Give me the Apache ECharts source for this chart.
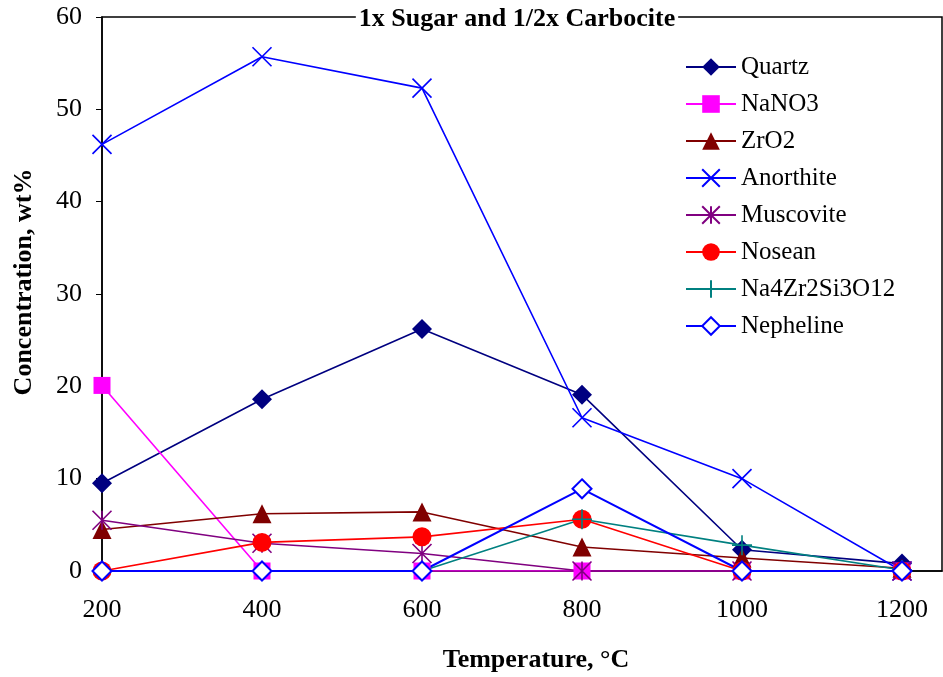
<!DOCTYPE html>
<html>
<head>
<meta charset="utf-8">
<script src="https://cdn.jsdelivr.net/npm/echarts@6/dist/echarts.min.js"></script>
<style>html,body{margin:0;padding:0;background:#fff}#c{width:943px;height:677px}</style>
</head>
<body>
<div id="c"></div>
<script>
var temps = [200, 400, 600, 800, 1000, 1200];
var xTicks = [200, 400, 600, 800, 1000, 1200];
var yTicks = [0, 10, 20, 30, 40, 50, 60];
var seriesNames = ['Quartz', 'NaNO3', 'ZrO2', 'Anorthite', 'Muscovite', 'Nosean', 'Na4Zr2Si3O12', 'Nepheline'];
var quartz = [9.5, 18.6, 26.2, 19.1, 2.3, 0.8];
var nano3 = [20.1, 0, 0, 0, 0, 0];
var zro2 = [4.5, 6.2, 6.4, 2.6, 1.4, 0.3];
var anorthite = [46.2, 55.7, 52.3, 16.6, 10.0, 0];
var muscovite = [5.5, 3.0, 1.9, 0, 0, 0];
var nosean = [0, 3.1, 3.7, 5.6, 0, 0];
var na4zr2si3o12 = [0, 0, 0, 5.6, 2.8, 0.1];
var nepheline = [0, 0, 0, 8.9, 0, 0];

var FONT = '"Liberation Serif", "Times New Roman", serif';
function pairs(arr) { return temps.map(function (t, i) { return [t, arr[i]]; }); }

var styles = [
  { data: quartz, color: '#000080', symbol: 'diamond', size: 20 },
  { data: nano3, color: '#FF00FF', symbol: 'rect', size: 17 },
  { data: zro2, color: '#800000', symbol: 'triangle', size: 19 },
  { data: anorthite, color: '#0000FF', symbol: 'path://M0,0L10,10M10,0L0,10', size: 19, stroke: true },
  { data: muscovite, color: '#800080', symbol: 'path://M0,0L10,10M10,0L0,10M5,0L5,10', size: 19, stroke: true },
  { data: nosean, color: '#FF0000', symbol: 'circle', size: 19 },
  { data: na4zr2si3o12, color: '#008080', symbol: 'path://M5,0L5,10M0,5L10,5', size: 20, stroke: true },
  { data: nepheline, color: '#0000FF', symbol: 'emptyDiamond', size: 19, stroke: true, lw: 2 }
];

var series = styles.map(function (s, i) {
  return {
    name: seriesNames[i],
    type: 'line',
    data: pairs(s.data),
    symbol: s.symbol,
    symbolSize: s.size,
    showAllSymbol: true,
    lineStyle: { color: s.color, width: s.lw || 1.6 },
    itemStyle: s.stroke ? { color: s.color, borderColor: s.color, borderWidth: s.lw || 1.6 } : { color: s.color, borderWidth: 0 },
    emphasis: { disabled: true }
  };
});

var chart = echarts.init(document.getElementById('c'), null, { renderer: 'canvas' });
chart.setOption({
  animation: false,
  backgroundColor: '#fff',
  grid: { left: 102, right: 1, top: 17, bottom: 106, show: true, borderColor: '#000', borderWidth: 1.5, containLabel: false },
  xAxis: {
    type: 'value', min: xTicks[0], max: 1250, interval: 200,
    axisLine: { show: true, lineStyle: { color: '#000', width: 1.5 } },
    axisTick: { show: false },
    splitLine: { show: false },
    axisLabel: { showMaxLabel: false, color: '#000', fontFamily: FONT, fontSize: 26, margin: 26,
      formatter: function (v) { return xTicks.indexOf(v) >= 0 ? String(v) : ''; } }
  },
  yAxis: {
    type: 'value', min: yTicks[0], max: yTicks[yTicks.length - 1], interval: 10,
    axisLine: { show: true, lineStyle: { color: '#000', width: 1.5 } },
    axisTick: { show: true, inside: false, length: 6, lineStyle: { color: '#000', width: 1 } },
    splitLine: { show: false },
    axisLabel: { color: '#000', fontFamily: FONT, fontSize: 26, margin: 20 }
  },
  legend: {
    orient: 'vertical', left: 685, top: 54, padding: 0,
    itemWidth: 50, itemHeight: 22, itemGap: 11,
    textStyle: { color: '#000', fontFamily: FONT, fontSize: 25, lineHeight: 26 },
    data: seriesNames
  },
  graphic: [
    { type: 'text', x: 517, y: 19, z: 100,
      style: { text: '1x Sugar and 1/2x Carbocite', fill: '#000', font: 'bold 26px ' + FONT,
        align: 'center', verticalAlign: 'middle', backgroundColor: '#fff', padding: [0, 3] } },
    { type: 'text', x: 536, y: 660,
      style: { text: 'Temperature, °C', fill: '#000', font: 'bold 26px ' + FONT, align: 'center', verticalAlign: 'middle' } },
    { type: 'text', x: 24, y: 282, rotation: Math.PI / 2,
      style: { text: 'Concentration, wt%', fill: '#000', font: 'bold 26px ' + FONT, align: 'center', verticalAlign: 'middle' } }
  ],
  series: series
});
</script>
</body>
</html>
